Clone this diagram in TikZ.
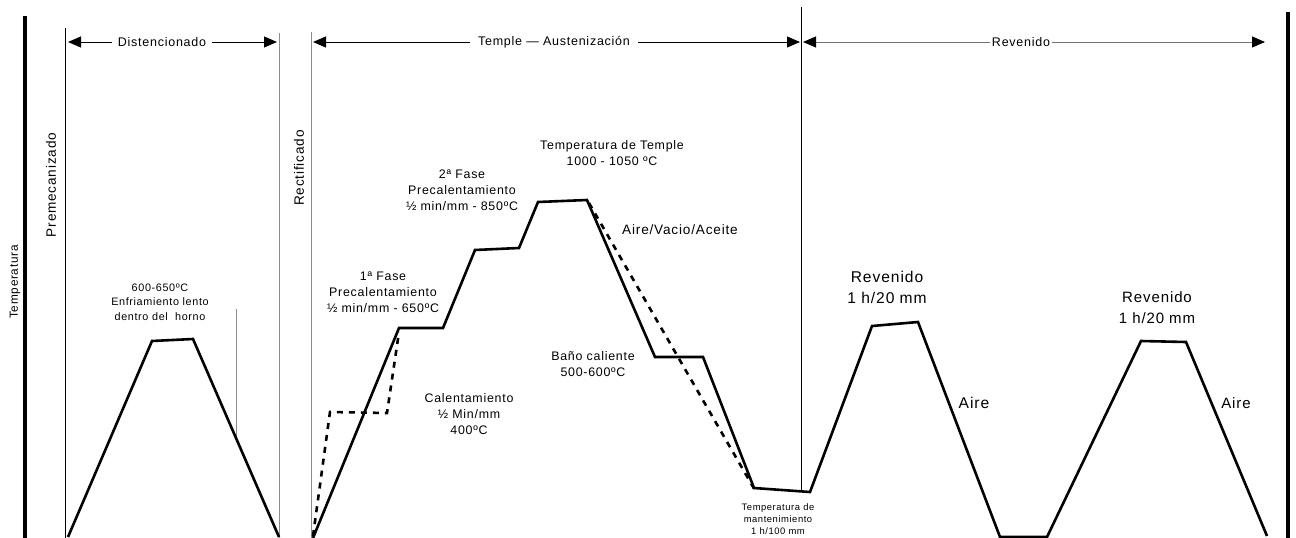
\documentclass[tikz,border=0pt]{standalone}
\usepackage{fontspec}
\setmainfont{Liberation Sans}[LetterSpace=6]
\usetikzlibrary{arrows.meta}
\begin{document}
\begin{tikzpicture}[x=1pt,y=-1pt,
  curve/.style={line width=2.6pt},
  dashcurve/.style={line width=2.6pt, dash pattern=on 6pt off 6pt},
  bar/.style={line width=3.2pt},
  thinline/.style={line width=0.9pt},
  grayline/.style={line width=1pt, draw=black!45},
  lbl/.style={align=center, font=\fontsize{12.4}{16}\selectfont, inner sep=0pt},
  hdr/.style={font=\fontsize{12.5}{15}\selectfont, inner ysep=0pt},
  tip/.style={-{Triangle[length=13pt,width=11pt,color=black]}, line width=1pt},
]
\useasboundingbox (0,0) rectangle (1296,538);

% axes and separators
\draw[bar] (25,16) -- (25,538);
\draw[bar] (1288,12) -- (1288,538);
\draw[thinline] (65,28) -- (65,538);
\draw[grayline] (279,33) -- (279,538);
\draw[grayline] (311,32) -- (311,538);
\draw[thinline] (801,7) -- (801,491);
\draw[grayline] (236,309) -- (236,437);

% header arrows
\node[hdr, inner xsep=6pt] (dist) at (162,42) {Distencionado};
\coordinate (distL) at (68,42);
\coordinate (distR) at (277,42);
\draw[tip] (dist.west) -- (distL);
\draw[tip] (dist.east) -- (distR);

\node[hdr, inner xsep=8pt] (temple) at (554,42) {Temple — Austenización};
\coordinate (templeL) at (313,42);
\coordinate (templeR) at (800,42);
\draw[tip] (temple.west) -- (templeL);
\draw[tip] (temple.east) -- (templeR);

\node[hdr, inner xsep=1.5pt] (rev) at (1021,42) {Revenido};
\coordinate (revL) at (803,42);
\coordinate (revR) at (1265,42);
\draw[tip, draw=black!55] (rev.west) -- (revL);
\draw[tip, draw=black!55] (rev.east) -- (revR);

% rotated labels
\node[rotate=90, font=\fontsize{11.8}{14}\selectfont, inner sep=0pt] (temp) at (15,282) {Temperatura};
\node[rotate=90, font=\fontsize{13.6}{16}\selectfont, inner sep=0pt] (premec) at (51,185) {Premecanizado};
\node[rotate=90, font=\fontsize{13.6}{16}\selectfont, inner sep=0pt] (rectif) at (299,168) {Rectificado};

% curves
\draw[curve] (68,537) -- (152,341) -- (193,339) -- (279,537);
\draw[curve] (313,538) -- (399,328) -- (443,328) -- (475,250) -- (519,248)
  -- (538,202) -- (587,200) -- (655,357) -- (703,357) -- (754,488)
  -- (810,492) -- (872,326) -- (918,322) -- (1000,537) -- (1047,537)
  -- (1141,341) -- (1186,342) -- (1267,536);
\draw[dashcurve] (313,536) -- (330,412) -- (387,413) -- (399,332);
\draw[dashcurve] (589,203) -- (756,492);

% labels
\node[lbl, font=\fontsize{10.8}{14.5}\selectfont] (dist1) at (160,302) {600-650ºC\\Enfriamiento lento\\dentro del\ \ horno};
\node[lbl] (fase1) at (383,292) {1ª Fase\\Precalentamiento\\½ min/mm - 650ºC};
\node[lbl] (fase2) at (462,190) {2ª Fase\\Precalentamiento\\½ min/mm - 850ºC};
\node[lbl] (calen) at (469,414) {Calentamiento\\½ Min/mm\\400ºC};
\node[lbl] (ttemple) at (612,153) {Temperatura de Temple\\1000 - 1050 ºC};
\node[lbl, font=\fontsize{13.6}{16}\selectfont] (aire0) at (680,230) {Aire/Vacio/Aceite};
\node[lbl] (bano) at (593,364) {Baño caliente\\500-600ºC};
\node[lbl, font=\fontsize{9.4}{12}\selectfont] (mant) at (778,519) {Temperatura de\\mantenimiento\\1 h/100 mm};
\node[lbl, font=\fontsize{15.6}{21}\selectfont] (rev1) at (887,287.5) {Revenido\\1 h/20 mm};
\node[lbl, font=\fontsize{15.6}{21}\selectfont] (aire1) at (974,403) {Aire};
\node[lbl, font=\fontsize{15}{21}\selectfont] (rev2) at (1157,307.5) {Revenido\\1 h/20 mm};
\node[lbl, font=\fontsize{15}{21}\selectfont] (aire2) at (1236,403) {Aire};
\end{tikzpicture}
\end{document}
